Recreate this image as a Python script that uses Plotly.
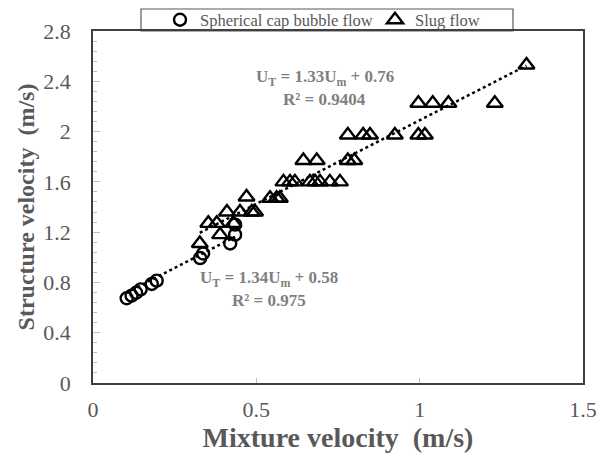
import plotly.graph_objects as go

# Spherical cap bubble flow
cap_x = [0.103, 0.118, 0.132, 0.146, 0.18, 0.195, 0.328, 0.337, 0.42, 0.435, 0.435]
cap_y = [0.674, 0.695, 0.718, 0.745, 0.788, 0.814, 0.994, 1.03, 1.11, 1.18, 1.26]

# Slug flow
slug_x = [0.327, 0.353, 0.379, 0.389, 0.41, 0.43, 0.45, 0.47, 0.486, 0.496,
          0.542, 0.562, 0.572, 0.583, 0.603, 0.618, 0.664, 0.68, 0.695, 0.725, 0.756,
          0.644, 0.685, 0.78, 0.80,
          0.78, 0.827, 0.848, 0.924, 0.996, 1.016,
          0.996, 1.04, 1.088, 1.23, 1.327]
slug_y = [1.11, 1.27, 1.27, 1.18, 1.36, 1.27, 1.36, 1.48, 1.36, 1.36,
          1.47, 1.47, 1.47, 1.60, 1.60, 1.60, 1.60, 1.60, 1.60, 1.60, 1.60,
          1.77, 1.77, 1.77, 1.77,
          1.973, 1.973, 1.973, 1.973, 1.973, 1.973,
          2.225, 2.225, 2.225, 2.225, 2.53]

# Trendline coefficients (slope, intercept)
cap_fit = (1.34, 0.58)
slug_fit = (1.33, 0.76)

serif = "Liberation Serif"
fig = go.Figure()

def line(xs, fit):
    x0, x1 = min(xs), max(xs)
    return [x0, x1], [fit[0] * x0 + fit[1], fit[0] * x1 + fit[1]]

lx, ly = line(cap_x, cap_fit)
fig.add_trace(go.Scatter(x=lx, y=ly, mode="lines", showlegend=False,
                         line=dict(color="black", width=2.5, dash="dot")))
lx, ly = line(slug_x, slug_fit)
fig.add_trace(go.Scatter(x=lx, y=ly, mode="lines", showlegend=False,
                         line=dict(color="black", width=2.5, dash="dot")))

fig.add_trace(go.Scatter(x=cap_x, y=cap_y, mode="markers", name="Spherical cap bubble flow",
                         legend="legend",
                         marker=dict(symbol="circle-open", size=12, color="black",
                                     line=dict(width=2.4, color="black"))))
fig.add_trace(go.Scatter(x=slug_x, y=slug_y, mode="markers", name="Slug flow",
                         legend="legend2",
                         marker=dict(symbol="triangle-up-open", size=14, color="black",
                                     line=dict(width=2.4, color="black"))))

ann_font = dict(family=serif, size=17, color="#7f7f7f")
fig.add_annotation(x=0.71, y=2.425, text="<b>U<sub>T</sub> = 1.33U<sub>m</sub> + 0.76</b>",
                   showarrow=False, font=ann_font)
fig.add_annotation(x=0.71, y=2.255, text="<b>R² = 0.9404</b>",
                   showarrow=False, font=ann_font)
fig.add_annotation(x=0.539, y=0.83, text="<b>U<sub>T</sub> = 1.34U<sub>m</sub> + 0.58</b>",
                   showarrow=False, font=ann_font)
fig.add_annotation(x=0.539, y=0.655, text="<b>R² = 0.975</b>",
                   showarrow=False, font=ann_font)

# legend frame
fig.add_shape(type="rect", xref="paper", yref="paper",
              x0=(141 - 93) / 490, x1=(513 - 93) / 490, y0=1.0, y1=(383 - 9) / 352,
              line=dict(color="#595959", width=1.2), fillcolor="white", layer="below")

leg_common = dict(orientation="h", yanchor="middle", y=(383 - 20) / 352, xanchor="left",
                  borderwidth=0, bgcolor="rgba(0,0,0,0)",
                  font=dict(family=serif, size=16.5, color="#595959"))

fig.update_layout(
    width=600, height=453,
    margin=dict(l=93, r=17, t=31, b=70, autoexpand=False),
    paper_bgcolor="white", plot_bgcolor="white",
    font=dict(family=serif, color="#595959"),
    legend=dict(x=(160 - 93) / 490, **leg_common),
    legend2=dict(x=(375 - 93) / 490, **leg_common),
    xaxis=dict(range=[0, 1.5], dtick=0.5, tickformat="~g", showgrid=False, zeroline=False,
               showline=True, linecolor="#404040", linewidth=1.5, mirror=True,
               ticks="inside", ticklen=5, tickcolor="#bfbfbf", ticklabelstandoff=6,
               tickfont=dict(family=serif, size=22, color="#595959"),
               title=dict(text="<b>Mixture velocity  (m/s)</b>", standoff=0,
                          font=dict(family=serif, size=28, color="#595959"))),
    yaxis=dict(range=[0, 2.8], dtick=0.4, showgrid=False, zeroline=False,
               showline=True, linecolor="#404040", linewidth=1.5, mirror=True,
               ticks="inside", ticklen=7, tickcolor="#bfbfbf", ticklabelstandoff=16,
               minor=dict(dtick=0.08, ticks="inside", ticklen=4, tickcolor="#bfbfbf"),
               tickfont=dict(family=serif, size=22, color="#595959"),
               title=dict(text="<b>Structure velocity  (m/s)</b>", standoff=2,
                          font=dict(family=serif, size=24, color="#595959"))),
)

fig.write_html("out.html")
